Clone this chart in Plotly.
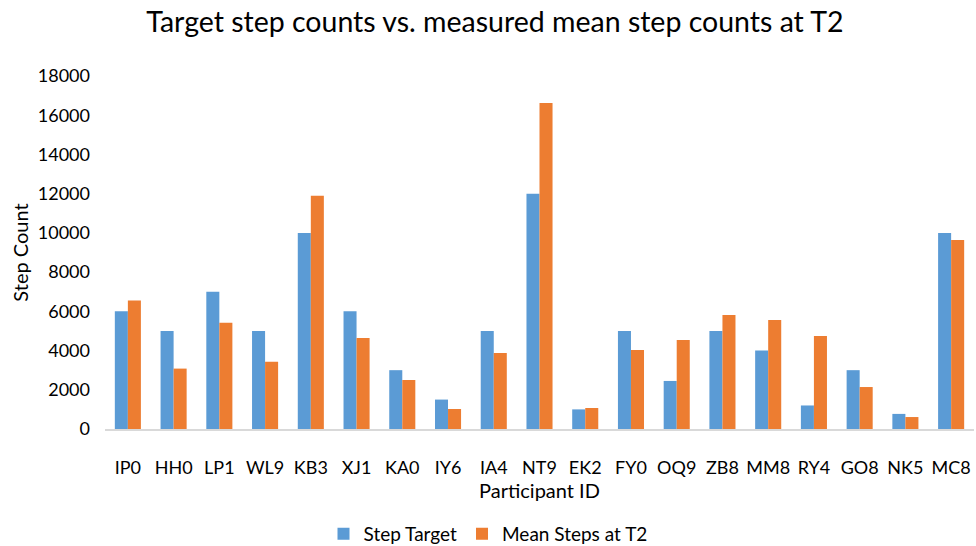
import plotly.graph_objects as go

participants = ["IP0", "HH0", "LP1", "WL9", "KB3", "XJ1", "KA0", "IY6", "IA4", "NT9",
                "EK2", "FY0", "OQ9", "ZB8", "MM8", "RY4", "GO8", "NK5", "MC8"]
step_target = [6000, 5000, 7000, 5000, 10000, 6000, 3000, 1500, 5000, 12000,
               1000, 5000, 2450, 5000, 4000, 1200, 3000, 770, 10000]
mean_steps_t2 = [6550, 3080, 5420, 3430, 11900, 4640, 2500, 1020, 3870, 16620,
                 1070, 4030, 4540, 5810, 5560, 4740, 2140, 610, 9640]
y_ticks = [0, 2000, 4000, 6000, 8000, 10000, 12000, 14000, 16000, 18000]

FONT = "Lato"
fig = go.Figure()
fig.add_trace(go.Bar(x=participants, y=step_target, name="Step Target",
                     marker=dict(color="#5B9BD5", line=dict(width=0))))
fig.add_trace(go.Bar(x=participants, y=mean_steps_t2, name="Mean Steps at T2",
                     marker=dict(color="#ED7D31", line=dict(width=0))))

fig.update_layout(
    width=976, height=546,
    barmode="group", bargap=0.43, bargroupgap=0,
    plot_bgcolor="white", paper_bgcolor="white",
    font=dict(family=FONT, size=18, color="#000000"),
    title=dict(text="Target step counts vs. measured mean step counts at T2",
               x=495 / 976, xanchor="center", xref="container",
               y=1 - 22 / 546, yref="container", yanchor="middle",
               font=dict(family=FONT, size=28.5, color="#000000")),
    margin=dict(l=105, r=2, t=76, b=117, autoexpand=False),
    xaxis=dict(title=dict(text="Participant ID", font=dict(size=20), standoff=7),
               showline=True, linecolor="#D9D9D9", linewidth=2, automargin=False,
               ticks="", tickfont=dict(size=18), showgrid=False,
               ticklabelstandoff=21),
    yaxis=dict(title=dict(text="Step Count", font=dict(size=20), standoff=3),
               range=[0, 18000], tickvals=y_ticks, tickformat="d",
               showgrid=False, zeroline=False, automargin=False,
               ticks="", tickfont=dict(size=18), ticklabelstandoff=14),
    legend=dict(orientation="h", x=0.5, xanchor="center", xref="container",
                y=12 / 546, yref="container", yanchor="middle",
                font=dict(size=19), traceorder="normal"),
)

fig.write_html("out.html",
               config={"displayModeBar": False},
               post_script="document.body.style.margin='0';document.body.style.overflow='hidden';")
